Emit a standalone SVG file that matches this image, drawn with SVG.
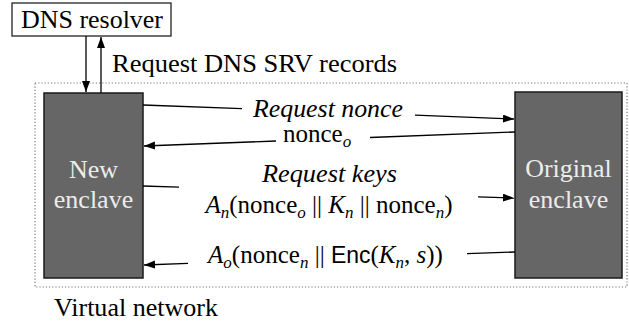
<svg xmlns="http://www.w3.org/2000/svg" width="629" height="321" viewBox="0 0 629 321">
<defs>
<marker id="ah" markerUnits="userSpaceOnUse" markerWidth="12" markerHeight="10" refX="11" refY="4" orient="auto">
<path d="M0,0 L11,4 L0,8 Z" fill="#000"/>
</marker>
</defs>
<rect x="35" y="83" width="592" height="204" fill="none" stroke="#777" stroke-width="1.2" stroke-dasharray="1.2,2"/>
<g id="dns">
<rect x="12" y="3" width="159" height="33" fill="#fff" stroke="#222" stroke-width="1.3"/>
<text font-family="Liberation Serif" font-size="25" x="21" y="28" textLength="142" lengthAdjust="spacingAndGlyphs">DNS resolver</text>
</g>
<g id="new">
<rect x="44" y="93" width="99" height="185" fill="#666" stroke="#1a1a1a" stroke-width="1.5"/>
<text font-family="Liberation Serif" font-size="26" fill="#ececec" x="93.5" y="178" text-anchor="middle">New</text>
<text font-family="Liberation Serif" font-size="26" fill="#ececec" x="93.5" y="208" text-anchor="middle">enclave</text>
</g>
<g id="orig">
<rect x="515" y="92" width="107" height="186" fill="#666" stroke="#1a1a1a" stroke-width="1.5"/>
<text font-family="Liberation Serif" font-size="26" fill="#ececec" x="568.5" y="177" text-anchor="middle">Original</text>
<text font-family="Liberation Serif" font-size="26" fill="#ececec" x="568.5" y="208" text-anchor="middle">enclave</text>
</g>
<g id="connectors" stroke="#000" stroke-width="1.3" fill="none">
<line x1="86" y1="36" x2="86" y2="92" marker-end="url(#ah)"/>
<line x1="101" y1="93" x2="101" y2="37" marker-end="url(#ah)"/>
<line x1="143" y1="105" x2="242" y2="108.7"/>
<line x1="415" y1="115.2" x2="514" y2="119" marker-end="url(#ah)"/>
<line x1="515" y1="132" x2="370" y2="137.5"/>
<line x1="276" y1="141" x2="144" y2="146" marker-end="url(#ah)"/>
<line x1="143" y1="186" x2="179" y2="187.2"/>
<line x1="478" y1="196.8" x2="514" y2="198" marker-end="url(#ah)"/>
<line x1="515" y1="252" x2="467" y2="253.7"/>
<line x1="188" y1="263.4" x2="144" y2="265" marker-end="url(#ah)"/>
</g>
<g id="labels" fill="#000">
<text font-family="Liberation Serif" font-size="25" x="112" y="72" textLength="285" lengthAdjust="spacingAndGlyphs">Request DNS SRV records</text>
<text font-family="Liberation Serif" font-size="25" font-style="italic" x="253" y="117" textLength="150" lengthAdjust="spacingAndGlyphs">Request nonce</text>
<text font-family="Liberation Serif" font-size="25" x="283" y="142">nonce<tspan font-size="17" font-style="italic" dy="5">o</tspan></text>
<text font-family="Liberation Serif" font-size="25" font-style="italic" x="262" y="182" textLength="135" lengthAdjust="spacingAndGlyphs">Request keys</text>
<text font-family="Liberation Serif" font-size="25" x="329" y="213" text-anchor="middle"><tspan font-style="italic">A</tspan><tspan font-size="17" font-style="italic" dy="5">n</tspan><tspan dy="-5">(nonce</tspan><tspan font-size="17" font-style="italic" dy="5">o</tspan><tspan dy="-5"> || </tspan><tspan font-style="italic">K</tspan><tspan font-size="17" font-style="italic" dy="5">n</tspan><tspan dy="-5"> || nonce</tspan><tspan font-size="17" font-style="italic" dy="5">n</tspan><tspan dy="-5">)</tspan></text>
<text font-family="Liberation Serif" font-size="25" x="325.5" y="263" text-anchor="middle"><tspan font-style="italic">A</tspan><tspan font-size="17" font-style="italic" dy="5">o</tspan><tspan dy="-5">(nonce</tspan><tspan font-size="17" font-style="italic" dy="5">n</tspan><tspan dy="-5"> || </tspan><tspan font-family="Liberation Sans" font-size="23">Enc</tspan><tspan>(</tspan><tspan font-style="italic">K</tspan><tspan font-size="17" font-style="italic" dy="5">n</tspan><tspan dy="-5">, </tspan><tspan font-style="italic">s</tspan><tspan>))</tspan></text>
<text font-family="Liberation Serif" font-size="25" x="54" y="316" textLength="164" lengthAdjust="spacingAndGlyphs">Virtual network</text>
</g>
</svg>
